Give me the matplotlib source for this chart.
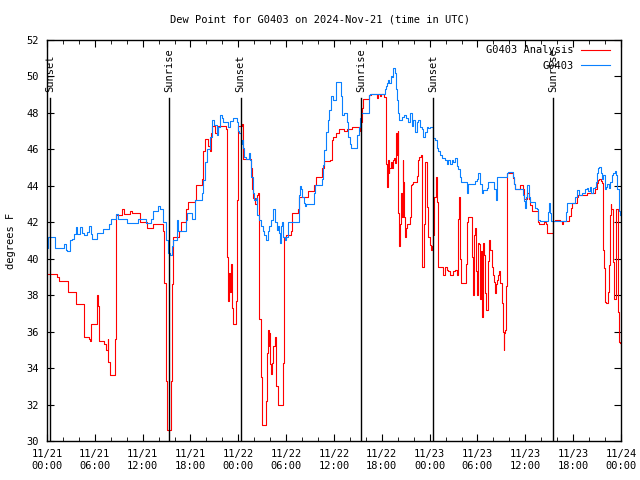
import datetime as dt
import matplotlib
matplotlib.use("Agg")
import matplotlib.pyplot as plt
import matplotlib.dates as mdates
import numpy as np

plt.rcParams['font.family'] = ['DejaVu Sans Mono']
plt.rcParams['font.size'] = 7.5

start = dt.datetime(2024, 11, 21)

# station observations (hours after 11/21 00:00 UTC, deg F)
obs_hours = [0.0, 0.15, 1.0, 2.1, 2.35, 2.5, 2.9, 3.2, 3.4, 3.6, 3.8, 4.2, 4.4, 4.65, 5.0,
             5.3, 5.5, 5.7, 6.3, 7.05, 7.8, 8.0, 8.6, 8.9, 10.1, 11.4, 12.4, 13.1, 13.35,
             13.9, 14.2, 14.6, 14.9, 15.2, 15.4, 15.65, 15.85, 16.3, 16.45, 17.45, 17.55,
             18.2, 18.55, 19.4, 19.6, 19.8, 20.05, 20.45, 20.65, 20.9, 21.3, 21.5, 21.7,
             21.9, 22.1, 22.75, 22.95, 23.35, 23.8, 23.95, 24.1, 24.35, 24.45, 24.55,
             24.75, 24.95, 25.4, 25.45, 25.6, 25.8, 26.0, 26.2, 26.4, 26.6, 26.85, 27.05,
             27.25, 27.45, 27.7, 27.9, 28.1, 28.3, 28.65, 28.8, 28.95, 29.1, 29.25, 29.35,
             29.5, 29.65, 29.85, 29.95, 30.2, 31.55, 31.75, 31.9, 32.05, 32.2, 32.35, 32.5,
             33.45, 33.6, 34.5, 34.65, 34.8, 35.0, 35.2, 35.4, 35.6, 35.9, 36.3, 36.65,
             36.85, 36.95, 37.2, 37.6, 37.8, 38.0, 38.1, 38.9, 39.1, 39.25, 39.45, 40.45,
             40.5, 42.4, 42.5, 42.7, 42.8, 42.95, 43.1, 43.3, 43.45, 43.65, 43.8, 43.95,
             44.05, 44.2, 44.5, 44.8, 45.05, 45.3, 45.55, 45.75, 45.95, 46.15, 46.4, 46.6,
             46.8, 47.0, 47.2, 47.4, 47.65, 47.85, 48.05, 48.4, 48.7, 48.9, 49.1, 49.3,
             49.5, 49.9, 50.15, 50.35, 50.55, 50.75, 50.95, 51.2, 51.4, 51.6, 51.8, 51.95,
             52.65, 52.85, 53.7, 53.9, 54.1, 54.3, 54.55, 54.75, 55.15, 55.35, 56.1, 56.3,
             56.4, 57.65, 57.85, 58.5, 58.6, 58.7, 59.65, 59.85, 60.0, 60.1, 60.25, 60.4,
             60.6, 61.2, 61.45, 61.65, 61.85, 62.8, 63.0, 63.1, 63.2, 65.1, 65.25, 66.25,
             66.45, 66.75, 67.05, 67.5, 67.7, 67.9, 68.1, 68.3, 68.5, 68.75, 68.85, 69.0,
             69.15, 69.3, 69.45, 69.6, 69.8, 70.0, 70.1, 70.3, 70.45, 70.65, 70.85, 71.05,
             71.25, 71.4, 71.55, 71.7, 71.8, 71.9]
obs_vals = [40.6, 41.2, 40.6, 40.8, 40.5, 40.45, 41.0, 41.1, 41.35, 41.75, 41.35, 41.75, 41.4,
            41.3, 41.45, 41.8, 41.35, 41.1, 41.4, 41.65, 41.9, 42.2, 42.45, 42.2, 41.95, 42.2,
            41.95, 42.2, 42.6, 42.9, 42.7, 42.0, 41.0, 40.3, 40.2, 40.7, 41.0, 42.1, 41.5,
            42.1, 42.5, 42.2, 43.2, 43.6, 44.3, 45.3, 46.0, 46.7, 47.6, 47.35, 46.8, 47.2,
            47.9, 47.7, 47.5, 47.2, 47.55, 47.7, 47.5, 47.0, 46.9, 46.3, 46.5, 46.05, 45.6,
            45.45, 45.8, 45.4, 44.5, 43.6, 43.2, 43.35, 42.4, 42.15, 41.8, 41.5, 41.3, 41.0,
            41.5, 41.8, 42.1, 42.75, 42.0, 41.6, 41.8, 41.4, 40.85, 41.8, 42.0, 41.2, 41.0,
            41.2, 42.0, 43.5, 44.0, 43.8, 43.4, 43.05, 42.9, 43.0, 43.6, 44.05, 44.4, 45.15,
            45.95, 46.97, 47.6, 48.15, 48.9, 48.7, 49.7, 49.7, 48.9, 47.9, 48.0, 47.5, 46.7,
            46.3, 46.06, 46.8, 47.25, 47.7, 47.98, 49.0, 49.05, 49.3, 49.45, 49.65, 49.8,
            49.65, 50.0, 49.95, 50.45, 50.2, 49.3, 48.7, 48.0, 47.6, 47.75, 47.9, 47.7, 47.5,
            47.98, 47.3, 47.6, 46.97, 47.5, 47.6, 47.25, 47.1, 46.7, 46.97, 47.25, 47.15,
            47.25, 46.6, 46.5, 46.1, 45.9, 45.7, 45.55, 45.4, 45.2, 45.4, 45.2, 45.4, 45.3,
            45.5, 45.1, 44.9, 44.5, 44.2, 43.6, 44.1, 44.25, 44.4, 44.7, 44.1, 43.6, 43.75,
            43.9, 44.2, 43.8, 43.2, 44.5, 44.7, 44.75, 44.5, 44.1, 43.8, 43.5, 43.15, 42.8,
            43.4, 44.05, 43.4, 43.1, 42.8, 42.7, 42.1, 42.05, 42.55, 43.05, 42.5, 42.05,
            42.55, 43.05, 43.4, 43.75, 43.5, 43.6, 43.8, 43.9, 43.7, 43.95, 43.6, 43.9,
            43.95, 44.2, 44.7, 44.95, 45.05, 44.7, 44.4, 44.6, 43.8, 43.95, 44.1, 43.9,
            44.2, 44.6, 44.7, 44.8, 44.6, 43.8, 43.2, 42.6, 42.4]

# analysis values
ana_hours = [0.0, 1.25, 1.5, 2.6, 3.65, 4.65, 5.25, 5.4, 5.5, 6.3, 6.4, 6.5, 7.15, 7.4, 7.6,
             7.7, 7.95, 8.5, 8.65, 9.4, 9.65, 10.4, 10.65, 11.65, 12.6, 13.25, 14.6, 14.7,
             14.9, 15.0, 15.5, 15.65, 15.75, 16.55, 16.75, 17.5, 17.7, 18.55, 18.7, 19.4,
             19.6, 19.8, 20.25, 20.45, 20.55, 20.65, 21.1, 21.45, 22.45, 22.55, 22.75, 22.85,
             22.95, 23.05, 23.15, 23.3, 23.7, 23.8, 23.9, 24.0, 24.45, 24.55, 24.6, 25.55,
             25.7, 25.8, 26.15, 26.3, 26.45, 26.55, 26.65, 26.8, 26.95, 27.45, 27.6, 27.7,
             27.8, 27.9, 28.0, 28.15, 28.25, 28.4, 28.55, 28.7, 28.95, 29.0, 29.55, 29.7,
             29.75, 30.0, 30.6, 30.75, 31.5, 31.65, 32.7, 33.55, 33.75, 34.5, 34.8, 35.5,
             35.7, 35.9, 36.3, 36.65, 37.25, 37.6, 38.2, 39.25, 39.35, 39.5, 39.6, 40.45,
             40.6, 41.35, 41.5, 41.8, 41.9, 42.3, 42.5, 42.6, 42.75, 42.85, 42.95, 43.1,
             43.25, 43.35, 43.5, 43.65, 43.8, 43.85, 44.0, 44.05, 44.2, 44.3, 44.4, 44.5,
             44.6, 44.7, 44.8, 44.9, 45.05, 45.2, 45.55, 45.6, 45.75, 45.95, 46.45, 46.6,
             46.7, 46.9, 47.0, 47.1, 47.3, 47.45, 47.65, 47.85, 48.05, 48.2, 48.35, 48.45,
             48.6, 48.75, 48.9, 49.0, 49.7, 49.9, 50.15, 50.35, 50.55, 50.95, 51.2, 51.4,
             51.5, 51.6, 51.7, 51.75, 51.9, 52.5, 52.65, 52.8, 53.3, 53.4, 53.5, 53.6, 53.7,
             53.8, 53.9, 54.05, 54.2, 54.3, 54.4, 54.55, 54.65, 54.8, 54.9, 55.05, 55.35,
             55.5, 55.6, 55.8, 55.9, 56.05, 56.2, 56.3, 56.5, 56.6, 56.75, 56.85, 57.05,
             57.2, 57.3, 57.35, 57.45, 57.6, 57.65, 57.75, 58.5, 58.6, 58.7, 59.35, 59.7,
             59.85, 60.25, 60.4, 60.6, 60.8, 61.65, 61.75, 62.35, 62.6, 62.75, 63.45, 63.5,
             63.75, 64.35, 64.55, 64.7, 65.5, 65.7, 65.8, 66.5, 66.65, 67.7, 68.75, 68.95,
             69.15, 69.3, 69.45, 69.6, 69.7, 69.8, 69.85, 70.0, 70.1, 70.4, 70.5, 70.6, 70.7,
             70.8, 70.95, 71.1, 71.35, 71.6, 71.7, 71.8, 71.9]
ana_vals = [39.15, 39.0, 38.8, 38.2, 37.5, 35.7, 35.6, 35.5, 36.4, 38.0, 37.4, 35.5, 35.3, 35.0,
            35.6, 34.35, 33.6, 35.6, 42.4, 42.75, 42.45, 42.6, 42.5, 42.0, 41.7, 41.9, 41.5,
            38.65, 33.3, 30.6, 33.3, 38.6, 41.2, 41.5, 42.0, 42.7, 43.1, 43.2, 44.05, 44.4,
            45.9, 46.55, 46.2, 45.9, 46.9, 47.3, 46.9, 47.3, 47.1, 40.1, 37.7, 39.2, 38.2,
            39.7, 37.3, 36.4, 37.7, 43.2, 46.0, 47.3, 47.4, 46.15, 45.45, 44.95, 43.85, 43.35,
            43.0, 43.5, 43.6, 41.4, 36.7, 33.5, 30.9, 32.2, 34.8, 36.1, 35.2, 35.9, 34.2, 33.7,
            34.3, 35.2, 35.7, 33.0, 32.4, 32.0, 34.3, 38.8, 41.2, 41.3, 41.5, 42.5, 42.7, 43.4,
            43.7, 44.05, 44.5, 45.0, 45.35, 45.4, 46.5, 46.7, 46.9, 47.1, 47.0, 47.1, 47.25,
            47.0, 47.5, 48.25, 48.75, 49.0, 49.05, 48.8, 49.05, 48.9, 49.05, 48.85, 45.2,
            43.95, 45.4, 44.7, 44.95, 45.3, 44.95, 45.4, 45.5, 45.25, 46.9, 45.7, 47.0, 42.5,
            40.7, 41.9, 43.6, 42.3, 45.4, 44.2, 42.3, 41.2, 41.7, 41.9, 42.3, 44.05, 44.1,
            44.2, 44.55, 45.4, 45.6, 45.7, 41.2, 39.55, 41.9, 45.3, 42.85, 41.2, 40.75, 40.5,
            40.7, 41.3, 43.4, 44.5, 43.1, 39.55, 39.1, 39.55, 39.4, 39.3, 39.1, 39.3, 39.4,
            39.1, 40.1, 42.2, 43.4, 40.0, 38.65, 39.7, 42.0, 42.3, 40.1, 38.0, 39.7, 41.3,
            41.7, 39.3, 38.0, 40.85, 40.8, 37.8, 40.4, 36.8, 40.85, 40.2, 38.1, 37.2, 39.9,
            41.0, 40.5, 39.55, 39.1, 38.7, 38.1, 38.6, 38.85, 39.1, 39.3, 38.65, 37.55, 36.0,
            35.0, 35.9, 36.1, 38.5, 42.75, 44.7, 44.45, 44.1, 43.8, 44.05, 43.8, 43.25, 43.6,
            43.25, 42.95, 42.6, 42.03, 41.9, 42.0, 41.9, 41.4, 41.8, 42.05, 42.15, 42.05,
            41.9, 42.05, 42.35, 42.8, 43.05, 43.4, 43.5, 43.6, 43.8, 44.15, 44.3, 44.4,
            44.25, 44.15, 42.7, 40.5, 39.5, 37.65, 37.55, 38.2, 39.65, 42.4, 43.0, 42.7,
            39.8, 37.8, 42.7, 37.1, 36.0, 35.45, 35.4]

# sunrise / sunset times (hours)
sun_hours = [0.4, 15.3, 24.3, 39.4, 48.4, 63.5]
sun_labels = ["Sunset", "Sunrise", "Sunset", "Sunrise", "Sunset", "Sunrise"]


def to_times(hours):
    return [start + dt.timedelta(hours=h) for h in hours]


fig = plt.figure(figsize=(6.4, 4.8), dpi=100)
ax = fig.add_axes([0.0734, 0.0813, 0.8969, 0.8354])

ax.plot(to_times(ana_hours), ana_vals, color='#ff0000', lw=0.8,
        drawstyle='steps-post', label='G0403 Analysis')
ax.plot(to_times(obs_hours), obs_vals, color='#0a80ff', lw=0.8,
        drawstyle='steps-post', label='G0403')

for h, lab in zip(sun_hours, sun_labels):
    t = start + dt.timedelta(hours=h)
    ax.plot([t, t], [30, 48.82], color='black', lw=1.0)
    ax.text(t, 49.15, lab, rotation=90, ha='center', va='bottom', fontsize=7.5)

ax.set_xlim(start, start + dt.timedelta(hours=72))
ax.set_ylim(30, 52)
ax.set_yticks(np.arange(30, 53, 2))

ax.xaxis.set_major_locator(mdates.HourLocator(byhour=[0, 6, 12, 18]))
ax.xaxis.set_minor_locator(mdates.HourLocator(byhour=range(0, 24, 2)))
ax.xaxis.set_major_formatter(mdates.DateFormatter('%m/%d\n%H:%M'))

ax.tick_params(axis='both', which='both', direction='in', top=True, right=True,
               labelsize=7.5)
ax.tick_params(which='major', length=5, pad=6)
ax.tick_params(which='minor', length=3)
for s in ax.spines.values():
    s.set_linewidth(1.0)

fig.text(0.5, 1 - 20 / 480, "Dew Point for G0403 on 2024-Nov-21 (time in UTC)",
         ha='center', va='center', fontsize=7.5)
ax.set_ylabel("degrees F", fontsize=7.5, labelpad=7)

ax.legend(loc='upper right', bbox_to_anchor=(0.988, 0.997), frameon=False,
          markerfirst=False, fontsize=7.5, handlelength=2.8, handletextpad=0.7,
          borderaxespad=0.0, labelspacing=0.5)

fig.savefig('out.png', dpi=100)
